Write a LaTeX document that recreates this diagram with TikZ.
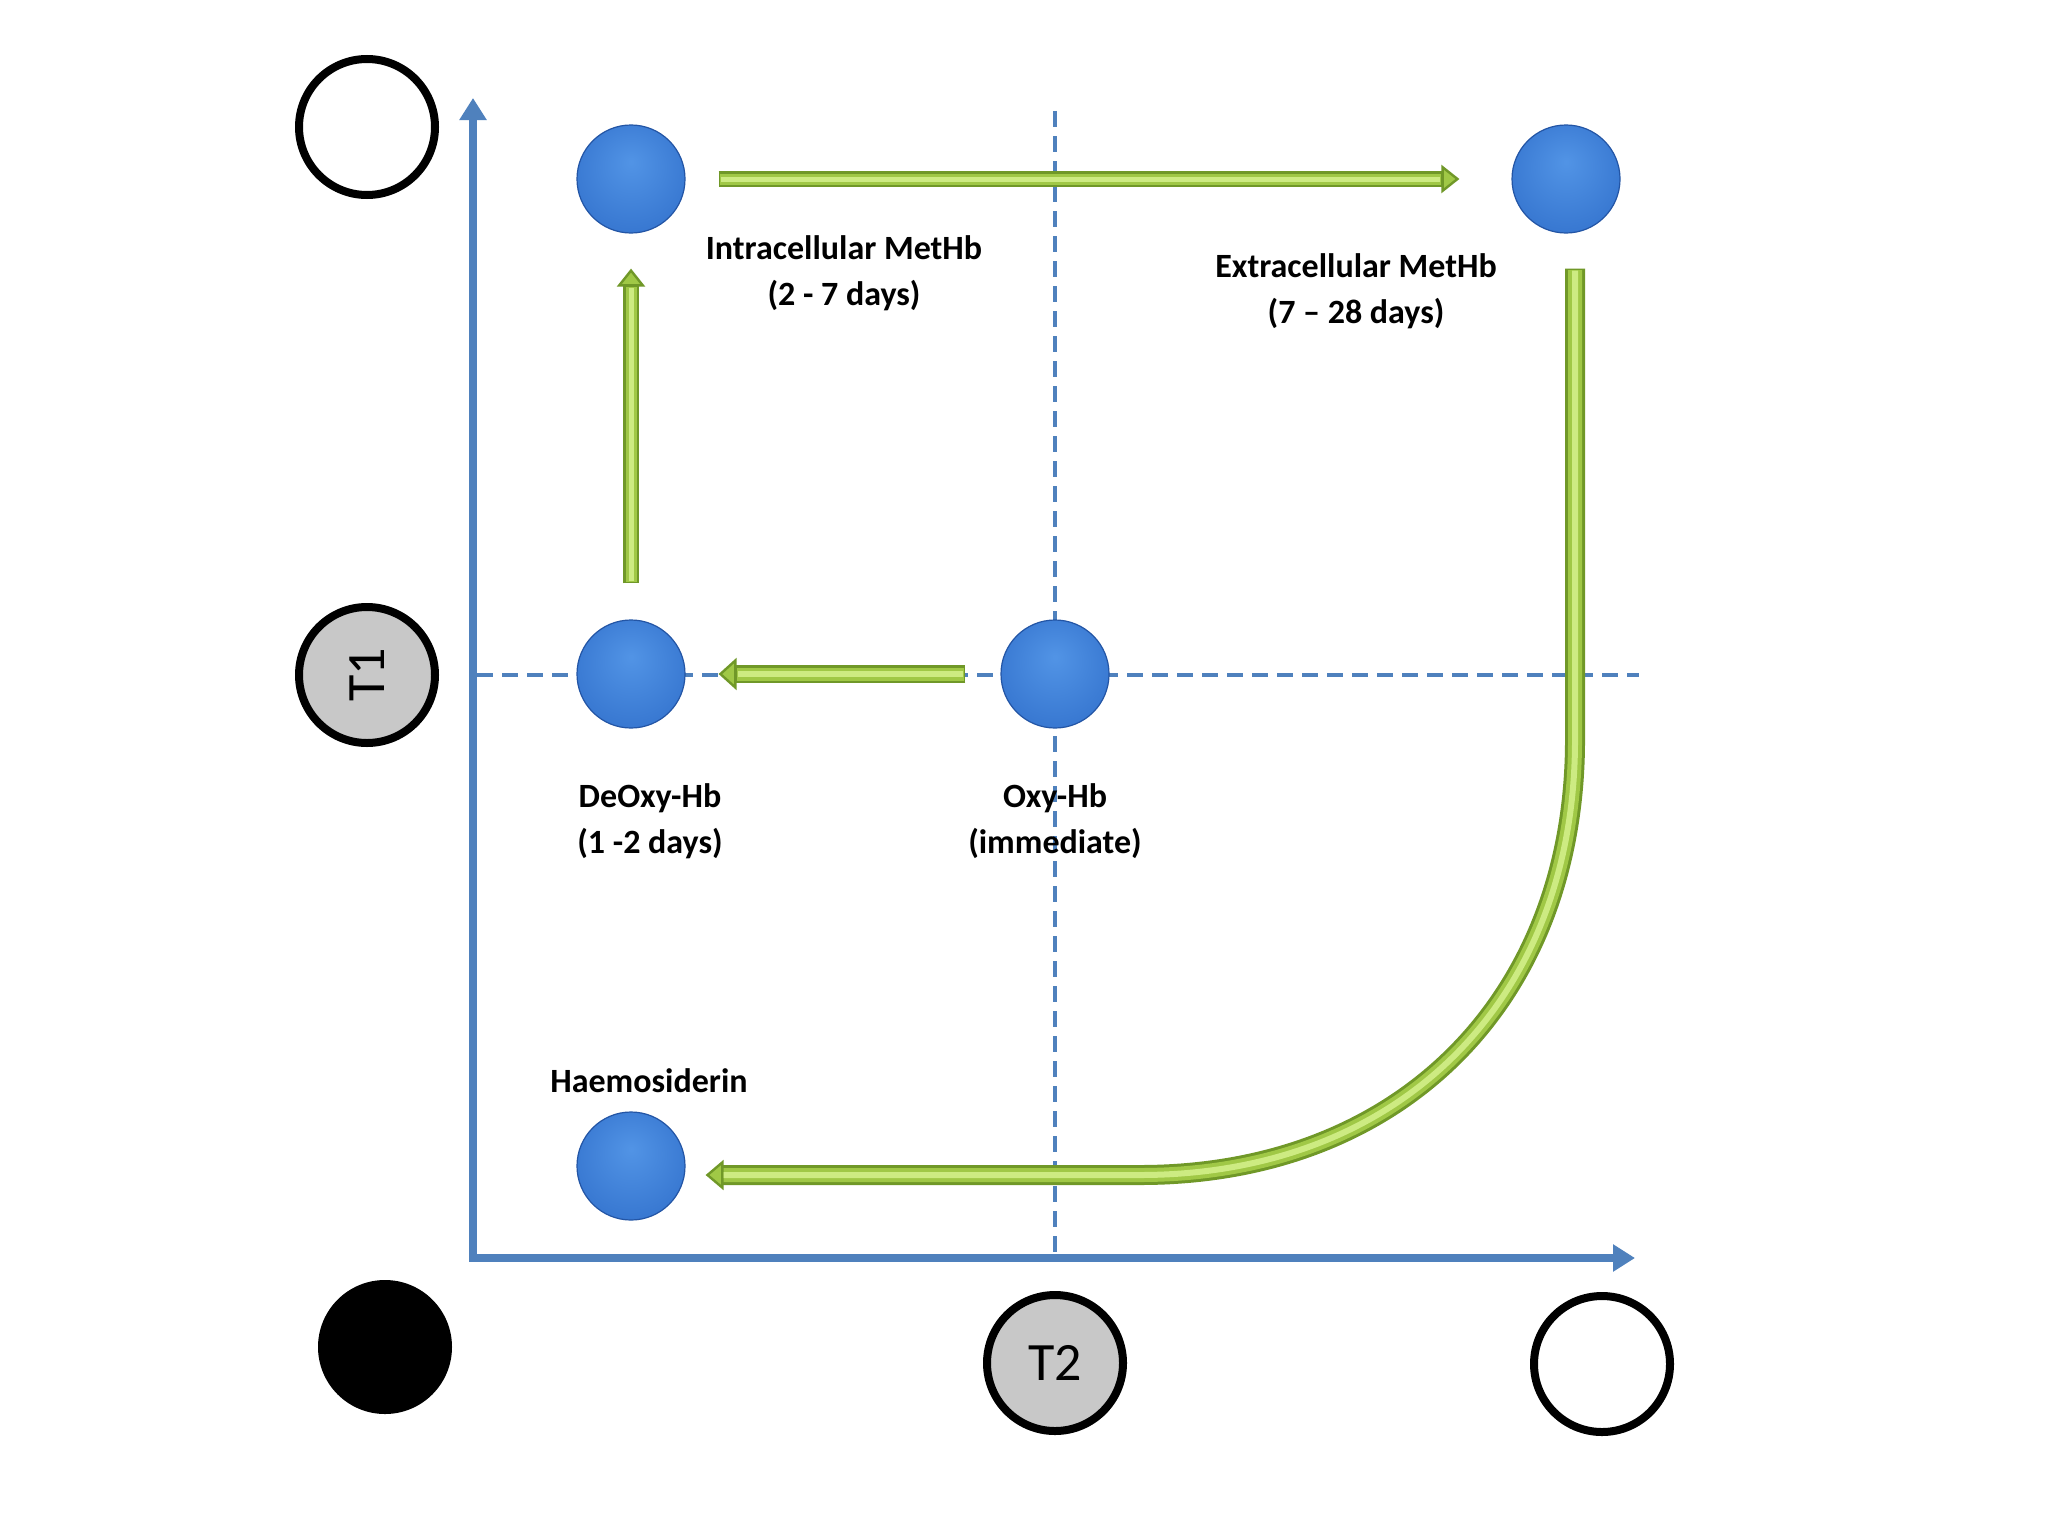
\documentclass[tikz,border=0pt]{standalone}
\usepackage{fontspec}
\setmainfont{Carlito}
\usetikzlibrary{arrows.meta}
\definecolor{axblue}{RGB}{79,129,189}
\definecolor{ballrim}{RGB}{35,85,165}
\definecolor{gdark}{RGB}{112,152,40}
\definecolor{gmid}{RGB}{160,200,70}
\definecolor{glight}{RGB}{205,235,130}
\definecolor{tgray}{RGB}{200,200,200}
\pgfdeclareradialshading{bshade}{\pgfpoint{0bp}{8bp}}{rgb(0bp)=(0.32,0.58,0.9); rgb(28bp)=(0.22,0.47,0.82); rgb(42bp)=(0.18,0.40,0.74); rgb(50bp)=(0.14,0.33,0.65)}
\begin{document}
\begin{tikzpicture}[x=0.5pt,y=-0.5pt,
  ball/.style={circle, minimum size=54pt, inner sep=0pt, shading=bshade, draw=ballrim, line width=0.6pt},
  ring/.style={circle, minimum size=68pt, inner sep=0pt, draw=black, line width=4pt, font=\fontsize{27}{27}\selectfont},
  lbl/.style={font=\bfseries\fontsize{17}{23}\selectfont, align=center, inner sep=0pt},
  axis/.style={draw=axblue, line width=3.8pt, line join=miter},
  gridline/.style={draw=axblue, line width=2pt, dash pattern=on 8pt off 4.5pt},
  gbase/.style={draw=gdark, line width=#1},
  gmidl/.style={draw=gmid, line width=#1},
  ghigh/.style={draw=glight, line width=#1},
  gtip/.style={-{Triangle[width=#1,length=9pt,fill=gmid,line width=1.2pt]}},
]
\useasboundingbox (0,0) rectangle (2048,1536);
\fill[white] (0,0) rectangle (2048,1536);

% grid lines
\coordinate (hl) at (477,675);
\coordinate (hr) at (1639,675);
\coordinate (vt) at (1055,111);
\coordinate (vb) at (1055,1262);
\draw[gridline] (hl) -- (hr);
\draw[gridline] (vt) -- (vb);

% axes
\coordinate (O) at (473,1258);
\coordinate (Ytop) at (473,98);
\coordinate (Xend) at (1635,1258);
\draw[axis, {Triangle[width=13pt,length=11pt]}-{Triangle[width=13pt,length=11pt]}] (Ytop) -- (O) -- (Xend);

% outline circles
\node[ring] (wtop) at (367,127) {};
\node[ring, fill=tgray, rotate=90] (t1) at (367,675) {T1};
\node[ring, fill=black, minimum size=63pt] (blk) at (385,1347) {};
\node[ring, fill=tgray] (t2) at (1055,1363) {T2};
\node[ring] (wbr) at (1602,1364) {};

% balls
\node[ball] (intra) at (631,179) {};
\node[ball] (extra) at (1566,179) {};
\node[ball] (deoxy) at (631,674) {};
\node[ball] (oxy) at (1055,674) {};
\node[ball] (haem) at (631,1166) {};

% labels
\node[lbl] (lintra) at (844,273) {Intracellular MetHb\\(2 - 7 days)};
\node[lbl] (lextra) at (1356,291) {Extracellular MetHb\\(7 -- 28 days)};
\node[lbl] (ldeoxy) at (650,821) {DeOxy-Hb\\(1 -2 days)};
\node[lbl] (loxy) at (1055,821) {Oxy-Hb\\(immediate)};
\node[lbl] (lhaem) at (649,1081) {Haemosiderin};

% green arrows
\draw[gbase=8pt, gtip=14pt, shorten <=16.5pt, shorten >=26pt] (intra) -- (extra);
\draw[gmidl=5.5pt, shorten <=17.2pt, shorten >=35pt] (intra) -- (extra);
\draw[ghigh=2.5pt, shorten <=17.5pt, shorten >=35.5pt] (intra) -- (extra);

\draw[gbase=8pt, gtip=14pt, shorten <=18pt, shorten >=17.5pt] (deoxy) -- (intra);
\draw[gmidl=5.5pt, shorten <=18.7pt, shorten >=26.5pt] (deoxy) -- (intra);
\draw[ghigh=2.5pt, shorten <=19pt, shorten >=27pt] (deoxy) -- (intra);

\draw[gbase=9pt, gtip=16pt, shorten <=17.5pt, shorten >=16.5pt] (oxy) -- (deoxy);
\draw[gmidl=6.5pt, shorten <=18.2pt, shorten >=25.5pt] (oxy) -- (deoxy);
\draw[ghigh=3pt, shorten <=18.5pt, shorten >=26pt] (oxy) -- (deoxy);

\coordinate (cstart) at ([xshift=4.5pt,yshift=-17.5pt]extra.south);
\coordinate (cend) at ([xshift=10pt,yshift=-4.5pt]haem.east);
\coordinate (cendin) at ([xshift=19pt,yshift=-4.5pt]haem.east);
\draw[gbase=10pt, gtip=15pt] (cstart) -- (1575,740) .. controls (1575,1000) and (1400,1175) .. (1140,1175) -- (cend);
\draw[gmidl=7pt] ([yshift=-0.7pt]cstart) -- (1575,740) .. controls (1575,1000) and (1400,1175) .. (1140,1175) -- (cendin);
\draw[ghigh=3pt] ([yshift=-1pt]cstart) -- (1575,740) .. controls (1575,1000) and (1400,1175) .. (1140,1175) -- (cendin);
\end{tikzpicture}
\end{document}
